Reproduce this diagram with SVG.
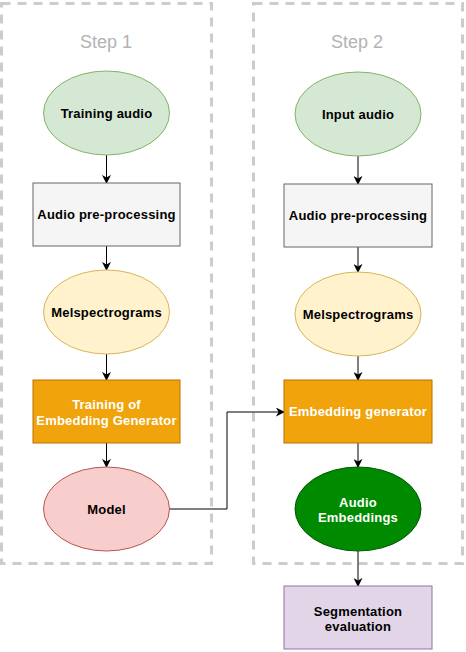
<svg xmlns="http://www.w3.org/2000/svg" width="466" height="652" viewBox="0 0 466 652">
<defs>
<marker id="arr" viewBox="0 0 10 10" refX="9" refY="5" markerWidth="9" markerHeight="9" markerUnits="userSpaceOnUse" orient="auto">
<path d="M0,0 L10,5 L0,10 L3,5 Z" fill="#000"/>
</marker>
</defs>
<style>
.step{fill:none;stroke:#cccccc;stroke-width:3;stroke-dasharray:9 7}
.steplbl{font-family:"Liberation Sans",Arial,sans-serif;font-size:18px;fill:#b3b3b3;text-anchor:middle}
.lbl{font-family:"Liberation Sans",Arial,sans-serif;font-size:13px;font-weight:bold;fill:#000;text-anchor:middle;letter-spacing:0.2px}
.wlbl{font-family:"Liberation Sans",Arial,sans-serif;font-size:13px;font-weight:bold;fill:#fff;text-anchor:middle;letter-spacing:0.2px}
.green{fill:#d5e8d4;stroke:#82b366}
.grey{fill:#f5f5f5;stroke:#666666}
.yellow{fill:#fff2cc;stroke:#d6b656}
.orange{fill:#f0a30a;stroke:#bd7000}
.red{fill:#f8cecc;stroke:#b85450}
.dgreen{fill:#008a00;stroke:#005700}
.purple{fill:#e1d5e7;stroke:#9673a6}
.edge{fill:none;stroke:#000;stroke-width:1;marker-end:url(#arr)}
</style>
<g id="step1">
<rect class="step" x="1.5" y="3.5" width="210" height="560"/>
<text class="steplbl" x="106" y="48">Step 1</text>
</g>
<g id="step2">
<rect class="step" x="253.5" y="3.5" width="209" height="560"/>
<text class="steplbl" x="357" y="48">Step 2</text>
</g>
<g id="connectors">
<path class="edge" d="M106.5,155 L106.5,183"/>
<path class="edge" d="M106.5,246 L106.5,270"/>
<path class="edge" d="M106.5,354 L106.5,380"/>
<path class="edge" d="M106.5,443 L106.5,467"/>
<path class="edge" d="M169,509 L227,509 L227,412 L284,412"/>
<path class="edge" d="M358,156 L358,184"/>
<path class="edge" d="M358,247 L358,272"/>
<path class="edge" d="M358,356 L358,380"/>
<path class="edge" d="M358,443 L358,467"/>
<path class="edge" d="M358,551 L358,586"/>
</g>
<g id="training-audio">
<ellipse class="green" cx="106.5" cy="113" rx="63" ry="42"/>
<text class="lbl" x="106.5" y="117.5">Training audio</text>
</g>
<g id="preproc-1">
<rect class="grey" x="33" y="183" width="147" height="63"/>
<text class="lbl" x="106.5" y="219">Audio pre-processing</text>
</g>
<g id="mel-1">
<ellipse class="yellow" cx="106.5" cy="312" rx="63" ry="42"/>
<text class="lbl" x="106.5" y="316.5">Melspectrograms</text>
</g>
<g id="training-embedding">
<rect class="orange" x="33" y="380" width="147" height="63"/>
<text class="wlbl" x="106.5" y="408.5">Training of</text>
<text class="wlbl" x="106.5" y="424.5">Embedding Generator</text>
</g>
<g id="model">
<ellipse class="red" cx="106.5" cy="509" rx="63" ry="42"/>
<text class="lbl" x="106.5" y="513.5">Model</text>
</g>
<g id="input-audio">
<ellipse class="green" cx="358" cy="114" rx="63" ry="42"/>
<text class="lbl" x="358" y="118.5">Input audio</text>
</g>
<g id="preproc-2">
<rect class="grey" x="284" y="184" width="148" height="63"/>
<text class="lbl" x="358" y="220">Audio pre-processing</text>
</g>
<g id="mel-2">
<ellipse class="yellow" cx="358" cy="314" rx="63" ry="42"/>
<text class="lbl" x="358" y="318.5">Melspectrograms</text>
</g>
<g id="embedding-generator">
<rect class="orange" x="284" y="380" width="148" height="63"/>
<text class="wlbl" x="358" y="416">Embedding generator</text>
</g>
<g id="audio-embeddings">
<ellipse class="dgreen" cx="358" cy="509" rx="63" ry="42"/>
<text class="wlbl" x="358" y="507">Audio</text>
<text class="wlbl" x="358" y="522">Embeddings</text>
</g>
<g id="segmentation">
<rect class="purple" x="284" y="586" width="148" height="63"/>
<text class="lbl" x="358" y="616">Segmentation</text>
<text class="lbl" x="358" y="631">evaluation</text>
</g>
</svg>
